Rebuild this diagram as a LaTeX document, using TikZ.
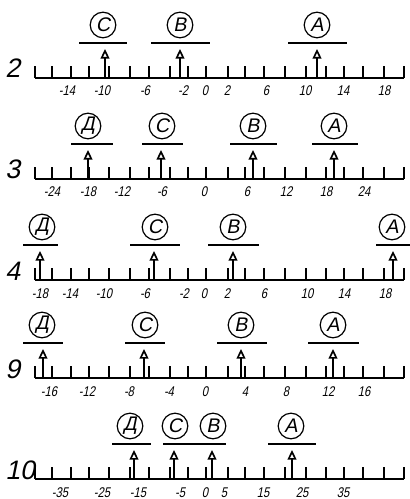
\documentclass[tikz,border=0pt]{standalone}
\usepackage{fontspec}
\setmainfont{Liberation Sans}[FakeSlant=0.2]
\newfontfamily\gostnum{Liberation Sans}[FakeSlant=0.2,FakeStretch=0.8]
\usetikzlibrary{arrows.meta}

\begin{document}
\begin{tikzpicture}[
    x=0.25mm, y=-0.25mm,
    axisline/.style={line width=0.45mm},
    tickline/.style={line width=0.3mm},
    rownum/.style={anchor=base west, inner sep=0pt, font=\fontsize{19}{19}\selectfont},
    scalenum/.style={anchor=base, inner sep=0pt, font=\gostnum\fontsize{10}{10}\selectfont},
    letter/.style={circle, draw, line width=0.3mm, minimum size=6.4mm, inner sep=0pt, font=\fontsize{14}{14}\selectfont},
    bar/.style={line width=0.5mm},
    pointer/.style={line width=0.4mm, -{Triangle[open, length=2.4mm, width=2.2mm]}}
]
\useasboundingbox (0,0) rectangle (410,499);

% Scales (same ticks in every row)
\foreach \y/\num in {78/2, 179/3, 280/4, 378/9, 479/10} {
    \draw[axisline] (35,\y) coordinate (ax\num-l) -- (404,\y) coordinate (ax\num-r);
    \foreach \x in {35,52,71,89,109,130,149,170,188,206,228,245,264,285,306,326,344,363,384,404}
        \draw[tickline] (\x,\y) -- ++(0,-12);
    \node[rownum] (row\num) at (5,\y) {\num};
}

% Row 2
\begin{scope}[shift={(0,78)}]
\foreach \x/\t [count=\i] in {67/-14, 102/-10, 145/-6, 183/-2, 205/0, 227/2, 266/6, 305/10, 343/14, 384/18}
    \node[scalenum] (val2-\i) at (\x,18) {\t};
\foreach \id/\n/\cx/\bl/\br/\ax in {c/С/103/79/127/105, b/В/180/151/210/180, a/А/317/288/347/317} {
    \node[letter] (p2\id) at (\cx,-53) {\n};
    \draw[bar] (\bl,-35) coordinate (p2\id-bl) -- (\br,-35) coordinate (p2\id-br);
    \coordinate (p2\id-foot) at (\ax,0);
    \coordinate (p2\id-tip) at (\ax,-29);
    \draw[pointer] (p2\id-foot) -- (p2\id-tip);
}
\end{scope}

% Row 3
\begin{scope}[shift={(0,179)}]
\foreach \x/\t [count=\i] in {52/-24, 88/-18, 122/-12, 162/-6, 204/0, 247/6, 286/12, 326/18, 364/24}
    \node[scalenum] (val3-\i) at (\x,18) {\t};
\foreach \id/\n/\cx/\bl/\br/\ax in {d/Д/88/71/113/88, c/С/162/142/183/161, b/В/253/230/277/253, a/А/334/312/358/334} {
    \node[letter] (p3\id) at (\cx,-53) {\n};
    \draw[bar] (\bl,-35) coordinate (p3\id-bl) -- (\br,-35) coordinate (p3\id-br);
    \coordinate (p3\id-foot) at (\ax,0);
    \coordinate (p3\id-tip) at (\ax,-29);
    \draw[pointer] (p3\id-foot) -- (p3\id-tip);
}
\end{scope}

% Row 4
\begin{scope}[shift={(0,280)}]
\foreach \x/\t [count=\i] in {40/-18, 70/-14, 104/-10, 145/-6, 184/-2, 204/0, 227/2, 264/6, 307/10, 344/14, 385/18}
    \node[scalenum] (val4-\i) at (\x,18) {\t};
\foreach \id/\n/\cx/\bl/\br/\ax in {d/Д/42/23/58/40, c/С/155/130/180/154, b/В/233/208/259/233, a/А/392/376/410/393} {
    \node[letter] (p4\id) at (\cx,-53) {\n};
    \draw[bar] (\bl,-35) coordinate (p4\id-bl) -- (\br,-35) coordinate (p4\id-br);
    \coordinate (p4\id-foot) at (\ax,0);
    \coordinate (p4\id-tip) at (\ax,-29);
    \draw[pointer] (p4\id-foot) -- (p4\id-tip);
}
\end{scope}

% Row 9
\begin{scope}[shift={(0,378)}]
\foreach \x/\t [count=\i] in {49/-16, 87/-12, 129/-8, 169/-4, 205/0, 245/4, 286/8, 328/12, 364/16}
    \node[scalenum] (val9-\i) at (\x,18) {\t};
\foreach \id/\n/\cx/\bl/\br/\ax in {d/Д/42/23/63/43, c/С/145/125/165/144, b/В/241/217/267/241, a/А/333/308/359/333} {
    \node[letter] (p9\id) at (\cx,-53) {\n};
    \draw[bar] (\bl,-35) coordinate (p9\id-bl) -- (\br,-35) coordinate (p9\id-br);
    \coordinate (p9\id-foot) at (\ax,0);
    \coordinate (p9\id-tip) at (\ax,-29);
    \draw[pointer] (p9\id-foot) -- (p9\id-tip);
}
\end{scope}

% Row 10
\begin{scope}[shift={(0,479)}]
\foreach \x/\t [count=\i] in {60/-35, 102/-25, 138/-15, 180/-5, 205/0, 224/5, 263/15, 302/25, 343/35}
    \node[scalenum] (val10-\i) at (\x,18) {\t};
\foreach \id/\n/\cx/\bl/\br/\ax in {d/Д/130/112/151/134, c/С/175/163/194/174, b/В/213/194/226/212, a/А/291/268/316/292} {
    \node[letter] (p10\id) at (\cx,-53) {\n};
    \draw[bar] (\bl,-35) coordinate (p10\id-bl) -- (\br,-35) coordinate (p10\id-br);
    \coordinate (p10\id-foot) at (\ax,0);
    \coordinate (p10\id-tip) at (\ax,-29);
    \draw[pointer] (p10\id-foot) -- (p10\id-tip);
}
\end{scope}

\end{tikzpicture}
\end{document}
